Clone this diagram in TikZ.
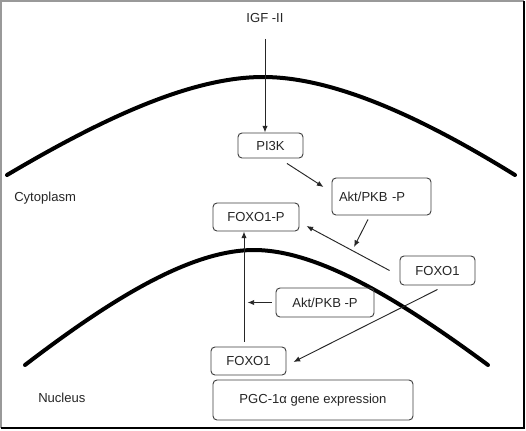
\documentclass[tikz,border=0pt]{standalone}
\usepackage{fontspec}
\setmainfont{Liberation Sans}
\usetikzlibrary{arrows.meta}
\begin{document}
\begin{tikzpicture}[x=0.75pt,y=-0.75pt,
  font=\fontsize{9.8}{11.5}\selectfont,
  box/.style={draw=black!75, line width=0.7pt, rounded corners=3pt, inner sep=0pt, text=black!85},
  arr/.style={draw=black!85, line width=0.7pt, -{Latex[length=5pt,width=4pt]}},
  membrane/.style={line width=3pt, line cap=round},
  lbl/.style={text=black!85, inner sep=0pt}]
\useasboundingbox (0,0) rectangle (526,430);
\fill[white] (0,0) rectangle (526,430);
% frame
\draw[black!40, line width=0.8pt] (1,428) -- (1,1) -- (524,1);
\draw[black, line width=1.5pt] (524,1) -- (524,428) -- (1,428);
% membranes
\draw[membrane] (7,175) .. controls (100,120) and (190,77) .. (263,77)
                        .. controls (336,77) and (426,120) .. (515,175);
\draw[membrane] (25,365) .. controls (110,300) and (190,250) .. (254,250)
                         .. controls (318,250) and (400,300) .. (488,365);
% labels
\node[lbl] (igf) at (265,18) {IGF -II};
\node[lbl, anchor=west] (cyto) at (14,198) {Cytoplasm};
\node[lbl, anchor=west] (nuc) at (38,398) {Nucleus};
% boxes
\node[box, minimum width=48.75pt, minimum height=18.75pt] (pi3k) at (270.5,145.5) {PI3K};
\node[box, minimum width=74.25pt, minimum height=27.75pt, text width=63.75pt, inner xsep=5.25pt, align=left] (aktT) at (381.5,196.5) {Akt/PKB -P};
\node[box, minimum width=64.5pt, minimum height=21pt] (foxoP) at (256,217) {FOXO1-P};
\node[box, minimum width=56.25pt, minimum height=21.75pt] (foxoR) at (437.5,270.5) {FOXO1};
\node[box, minimum width=73.5pt, minimum height=21.75pt] (aktL) at (325,302.5) {Akt/PKB -P};
\node[box, minimum width=56.25pt, minimum height=21pt] (foxoL) at (248.5,361) {FOXO1};
\node[box, minimum width=150pt, minimum height=30pt] (pgc) at (313,400) {PGC-1α gene expression};
\coordinate (aktend) at (354,247);
% connectors
\draw[arr] ([yshift=-12pt]igf.south) -- (igf.south |- pi3k.north);
\draw[arr] ([shift={(16.5,5)}]pi3k.south) -- ([shift={(-8,-9.5)}]aktT.west);
\draw[arr] ([shift={(-13.5,4)}]aktT.south) -- (aktend);
\draw[arr] ([shift={(-10,0)}]foxoR.west) -- ([shift={(7,9)}]foxoP.east);
\draw[arr] ([shift={(0,4)}]foxoR.south) -- ([shift={(7,1)}]foxoL.east);
\draw[arr] ([shift={(-4.5,-5)}]foxoL.north) -- ([shift={(-12,0)}]foxoP.south);
\draw[arr] ([shift={(-4,0)}]aktL.west) -- ([shift={(-28,0)}]aktL.west);
\end{tikzpicture}
\end{document}
